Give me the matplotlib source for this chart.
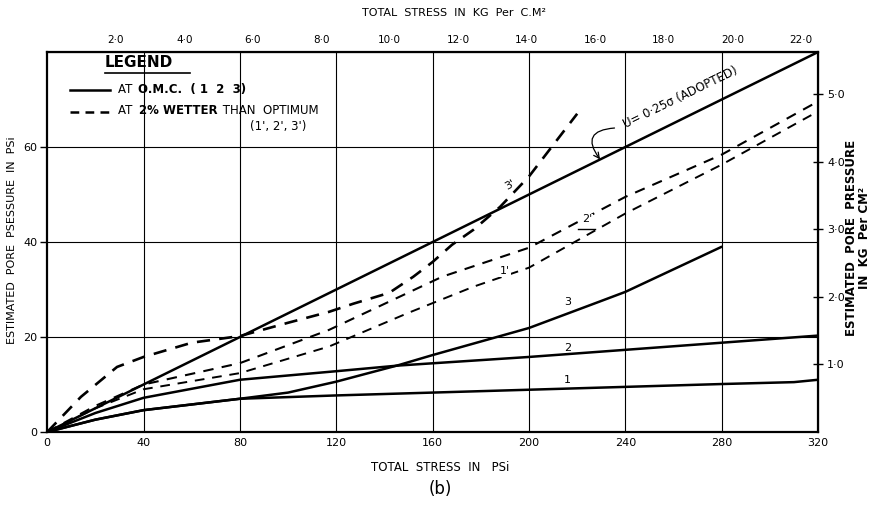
import numpy as np
import matplotlib.pyplot as plt

plt.rcParams["font.family"] = "DejaVu Sans"

PSI_PER_KG = 14.22

# Total stress (psi) vs estimated pore pressure (psi)
adopted_x = [0, 320]
adopted_y = [0, 80]

omc1_x = [0, 20, 40, 80, 120, 160, 200, 240, 280, 310, 320]
omc1_y = [0, 2.6, 4.6, 7.0, 7.7, 8.3, 8.9, 9.5, 10.1, 10.5, 11.0]

omc2_x = [0, 20, 40, 80, 120, 146, 200, 240, 280, 320]
omc2_y = [0, 4.0, 7.2, 11.0, 12.8, 14.0, 15.8, 17.3, 18.8, 20.3]

omc3_x = [0, 20, 40, 80, 100, 120, 146, 160, 200, 229, 240, 280]
omc3_y = [0, 2.6, 4.6, 7.0, 8.3, 10.6, 14.1, 16.2, 21.9, 27.4, 29.5, 39.0]

wet1_x = [0, 20, 40, 80, 117, 150, 177, 200, 240, 280, 320]
wet1_y = [0, 5.0, 9.0, 12.4, 18.0, 25.1, 30.6, 34.6, 46.0, 56.3, 67.5]

wet2_x = [0, 20, 40, 80, 117, 164, 200, 240, 280, 320]
wet2_y = [0, 5.5, 10.0, 14.5, 21.5, 32.7, 38.8, 49.5, 58.4, 69.6]

wet3_x = [0, 14, 29, 40, 60, 80, 100, 117, 127, 142, 152, 160, 168, 177, 188, 200, 220]
wet3_y = [0, 7.4, 13.7, 15.8, 18.8, 20.2, 23.0, 25.3, 27.0, 29.3, 32.7, 35.8, 39.4, 42.6, 47.4, 53.8, 67.0]

x_ticks = [0, 40, 80, 120, 160, 200, 240, 280, 320]
y_ticks = [0, 20, 40, 60]
kg_top_ticks = [2, 4, 6, 8, 10, 12, 14, 16, 18, 20, 22]
kg_right_ticks = [1, 2, 3, 4, 5]

fig = plt.figure(figsize=(8.74, 5.08), dpi=100)
ax = fig.add_axes([0.054, 0.1496, 0.882, 0.748])
ax.set_xlim(0, 320)
ax.set_ylim(0, 80)

# grid
for gx in x_ticks[1:-1]:
    ax.axvline(gx, color="black", lw=0.8, zorder=1)
for gy in y_ticks[1:]:
    ax.axhline(gy, color="black", lw=0.8, zorder=1)

solid = dict(color="black", lw=1.8, solid_capstyle="round", zorder=3)
ax.plot(adopted_x, adopted_y, **solid)
ax.plot(omc1_x, omc1_y, **solid)
ax.plot(omc2_x, omc2_y, **solid)
ax.plot(omc3_x, omc3_y, **solid)

ax.plot(wet1_x, wet1_y, color="black", lw=1.4, linestyle=(0, (5, 4)), zorder=3)
ax.plot(wet2_x, wet2_y, color="black", lw=1.5, linestyle=(0, (5, 4)), zorder=3)
ax.plot(wet3_x, wet3_y, color="black", lw=1.9, linestyle=(0, (5, 3.5)), zorder=3)

# curve labels
lab = dict(fontsize=8, ha="center", va="center", zorder=4)
ax.text(216, 11.0, "1", **lab)
ax.text(216, 17.6, "2", **lab)
ax.text(216, 27.4, "3", **lab)
ax.text(190, 33.8, "1'", bbox=dict(fc="white", ec="none", pad=0.5), **lab)
ax.text(224, 44.8, "2'", bbox=dict(fc="white", ec="none", pad=0.5), **lab)
ax.plot([220.5, 227.5], [42.8, 42.8], color="black", lw=1.0, zorder=4)
ax.text(192, 52.0, "3'", rotation=30, **lab)

ax.text(263, 70.5, "U= 0·25σ (ADOPTED)", fontsize=8.5, rotation=26,
        ha="center", va="center")
ax.annotate("", xy=(229.5, 57.4), xytext=(235.5, 64.0),
            arrowprops=dict(arrowstyle="->", color="black", lw=0.9,
                            connectionstyle="arc3,rad=0.9",
                            shrinkA=0, shrinkB=0))

# axes frame and ticks
for s in ax.spines.values():
    s.set_linewidth(1.6)
ax.set_xticks(x_ticks)
ax.set_yticks(y_ticks)
ax.tick_params(axis="x", length=0, pad=4, labelsize=8)
ax.tick_params(axis="y", length=5, width=1.0, direction="out", pad=2, labelsize=8)

top = ax.secondary_xaxis("top", functions=(lambda p: p / PSI_PER_KG, lambda k: k * PSI_PER_KG))
top.set_xticks(kg_top_ticks)
top.set_xticklabels([f"{k}·0" for k in kg_top_ticks])
top.tick_params(length=0, pad=5, labelsize=7.5)

right = ax.secondary_yaxis("right", functions=(lambda p: p / PSI_PER_KG, lambda k: k * PSI_PER_KG))
right.set_yticks(kg_right_ticks)
right.set_yticklabels([f"{k}·0" for k in kg_right_ticks])
right.tick_params(length=7, width=1.0, direction="inout", pad=3, labelsize=8)

# axis titles
ax.text(0.51, -0.093, "TOTAL  STRESS  IN   PSi", transform=ax.transAxes,
        fontsize=8.5, ha="center", va="center")
ax.text(0.51, -0.150, "(b)", transform=ax.transAxes, fontsize=12, ha="center", va="center")
ax.text(0.528, 1.103, "TOTAL  STRESS  IN  KG  Per  C.M²", transform=ax.transAxes,
        fontsize=8, ha="center", va="center")
ax.text(-0.046, 0.505, "ESTIMATED  PORE  PSESSURE  IN  PSi", transform=ax.transAxes,
        fontsize=8, rotation=90, ha="center", va="center")
ax.text(1.052, 0.51, "ESTIMATED  PORE  PRESSURE\nIN  KG  Per CM²", transform=ax.transAxes,
        fontsize=8.5, fontweight="bold", rotation=90, ha="center", va="center",
        multialignment="center", linespacing=1.0)

# hand-made legend box contents
ax.text(0.075, 0.972, "LEGEND", transform=ax.transAxes, fontsize=11,
        fontweight="bold", ha="left", va="center")
ax.plot([0.075, 0.185], [0.944, 0.944], transform=ax.transAxes, color="black", lw=1.2)
ax.plot([0.030, 0.082], [0.900, 0.900], transform=ax.transAxes, color="black", lw=1.8)
ax.text(0.092, 0.902, "AT ", transform=ax.transAxes, fontsize=8.5, ha="left", va="center")
ax.text(0.118, 0.902, "O.M.C.  ( 1  2  3)", transform=ax.transAxes, fontsize=8.5,
        fontweight="bold", ha="left", va="center")
ax.plot([0.030, 0.086], [0.843, 0.843], transform=ax.transAxes, color="black",
        lw=1.8, linestyle=(0, (3.5, 2.5)))
t2 = ax.text(0.092, 0.845, "AT ", transform=ax.transAxes, fontsize=8.5, ha="left", va="center")
t3 = ax.annotate("2% WETTER", xy=(1, 0.5), xycoords=t2, xytext=(2, 0),
                 textcoords="offset points", fontsize=8.5, fontweight="bold",
                 ha="left", va="center")
ax.annotate(" THAN  OPTIMUM", xy=(1, 0.5), xycoords=t3, xytext=(1, 0),
            textcoords="offset points", fontsize=8.5, ha="left", va="center")
ax.text(0.300, 0.803, "(1', 2', 3')", transform=ax.transAxes, fontsize=8.5,
        ha="center", va="center")

fig.savefig("out.png", dpi=100, facecolor="white")
